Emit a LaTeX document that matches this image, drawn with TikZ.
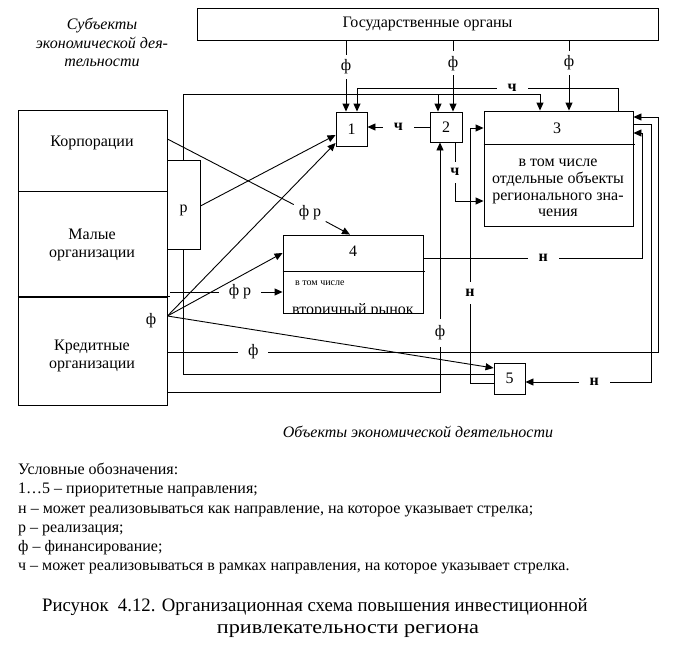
\documentclass[tikz,border=0pt]{standalone}
\usepackage{fontspec}
\setmainfont{Liberation Serif}
\usetikzlibrary{arrows.meta,calc}
\begin{document}
\begin{tikzpicture}[x=1pt,y=-1pt,
  every node/.style={font=\fontsize{16}{18}\selectfont},
  box/.style={draw, line width=0.9pt, inner sep=0pt, rectangle},
  conn/.style={line width=0.9pt},
  arr/.style={conn, -{Triangle[length=8pt,width=7pt]}},
  hlab/.style={fill=white, inner xsep=11pt, inner ysep=0.5pt},
  vlab/.style={fill=white, inner xsep=1pt, inner ysep=7pt},
  bold/.style={font=\fontsize{16}{18}\selectfont\bfseries},
  txt/.style={inner sep=0pt, align=center},
  legend/.style={anchor=base west, inner sep=0pt, font=\fontsize{16}{18}\selectfont},
  capt/.style={anchor=base, inner sep=0pt, font=\fontsize{19}{22}\selectfont}
]
\useasboundingbox (0,0) rectangle (675,656);

% boxes
\node[box, minimum width=461pt, minimum height=32pt] (gov) at (427.5,24) {Государственные органы};
\node[box, minimum width=149pt, minimum height=81pt] (corp) at (92.5,150.5) {};
\node[box, minimum width=149pt, minimum height=106pt] (small) at (92.5,244) {};
\node[box, minimum width=149pt, minimum height=108pt] (credit) at (92.5,351) {};
\node[box, fill=white, minimum width=33pt, minimum height=89pt] (rbox) at (183.5,204.5) {};
\node[box, minimum width=31pt, minimum height=34pt] (b1) at (351.5,129) {1};
\node[box, minimum width=32pt, minimum height=30pt] (b2) at (446,127) {2};
\node[box, minimum width=149pt, minimum height=115pt] (b3) at (558.5,168.5) {};
\node[box, minimum width=140pt, minimum height=78pt] (b4) at (353,274) {};
\node[box, minimum width=31pt, minimum height=31pt] (b5) at (509.5,378.5) {5};

% texts in boxes
\node[txt] (tcorp) at (92,143) {Корпорации};
\node[txt] (tsmall) at (92,245) {Малые\\организации};
\node[txt] (tcredit) at (92,355.5) {Кредитные\\организации};
\node[txt] (tr) at (183.5,210) {р};
\node[txt] (t3) at (557,128) {3};
\node[txt, font=\fontsize{16}{16.7}\selectfont] (t3b) at (558,188) {в том числе\\отдельные объекты\\регионального зна-\\чения};
\node[txt] (t4) at (353,251) {4};
\node[anchor=west, inner sep=0pt, font=\fontsize{10}{12}\selectfont] (t4a) at (295,283) {в том числе};
\begin{scope}
  \clip (b4.south west) rectangle (b4.east |- 0,272);
  \node[anchor=base, inner sep=0pt] (t4b) at (353,314.5) {вторичный рынок};
\end{scope}

% dividers
\draw[conn] (credit.north west) -- ([xshift=3pt]credit.north east);
\draw[conn] (b3.west |- 0,144) -- ([xshift=2pt]b3.east |- 0,144);
\draw[conn] (b4.west |- 0,271) -- ([xshift=2pt]b4.east |- 0,271);

% headings
\node[txt, font=\fontsize{16}{18.5}\selectfont\itshape] (subj) at (102,42.5) {Субъекты\\экономической дея-\\тельности};
\node[txt, font=\fontsize{16}{18}\selectfont\itshape] (objs) at (418,432) {Объекты экономической деятельности};

% from government bodies
\draw[arr] (gov.south -| 346,0) -- node[vlab, inner ysep=5pt, pos=0.37]{ф} (b1.north -| 346,0);
\draw[arr] (gov.south -| 453,0) -- node[vlab, inner ysep=5pt, pos=0.32]{ф} (b2.north -| 453,0);
\draw[arr] (gov.south -| 569,0) -- node[vlab, inner ysep=5pt, pos=0.32]{ф} (b3.north -| 569,0);

% ч connectors
\draw[arr] (b3.north -| 618,0) -- (618,88) -- node[hlab, bold, pos=0.406]{ч} (357,88) -- (b1.north -| 357,0);
\draw[arr] (b2.west) -- node[hlab, bold]{ч} (b2.west -| b1.east);
\draw[arr] (b2.south -| 455,0) -- node[vlab, bold, pos=0.51]{ч} (455,201) -- (b3.west |- 0,201);

% р box connectors
\draw[arr] (rbox.north) -- (183.5,94) -- (540,94) -- (b3.north -| 540,0);
\draw[arr] (438,94) -- (b2.north -| 438,0);
\draw[conn] (rbox.south) -- (183.5,374) -- (b5.west |- 0,374);
\draw[arr] (rbox.east |- 0,206) -- (b1.west |- 0,135);

% н connectors
\draw[arr] (b5.west |- 0,383) -- (470,383) -- node[vlab, bold, pos=0.353]{н} (470,128) -- (b3.west |- 0,128);
\draw[arr] (b4.east |- 0,258) -- node[hlab, bold, pos=0.548]{н} (642,258) -- (642,133) -- (b3.east |- 0,133);
\draw[arr] (b3.east |- 0,124) -- (651,124) -- (651,382) -- node[hlab, bold, pos=0.452]{н} (b5.east |- 0,382);

% ф connectors from credit organisations
\draw[arr] (credit.east |- 0,392) -- (440,392) -- node[vlab, pos=0.236]{ф} (b2.south -| 440,0);
\draw[arr] (credit.east |- 0,352) -- node[hlab, inner xsep=10pt, pos=0.175]{ф} (658,352) -- (658,117) -- (b3.east |- 0,117);

% ф р connectors
\node[inner xsep=9pt, inner ysep=1pt] (fr1) at (310,213) {ф р};
\draw[conn] (corp.east |- 0,139) -- (fr1);
\draw[arr] (fr1) -- (b4.north -| 350,0);
\node[inner xsep=10pt, inner ysep=1pt] (fr2) at (240,292) {ф р};
\draw[conn] ([xshift=3pt]small.east |- 0,292) -- (fr2);
\draw[arr] (fr2) -- (b4.west |- 0,292);

% fan from credit organisations
\coordinate (F) at (credit.east |- 0,316);
\node[txt] (fF) at (151,321) {ф};
\draw[arr] (F) -- (b1.west |- 0,143);
\draw[arr] (F) -- (b4.west |- 0,253);
\draw[arr] (F) -- (b5.west |- 0,368);

% legend
\node[legend] (l1) at (18,474) {Условные обозначения:};
\node[legend] (l2) at (18,493) {1…5 – приоритетные направления;};
\node[legend] (l3) at (18,513) {н – может реализовываться как направление, на которое указывает стрелка;};
\node[legend] (l4) at (18,532) {р – реализация;};
\node[legend] (l5) at (18,551) {ф – финансирование;};
\node[legend] (l6) at (18,570) {ч – может реализовываться в рамках направления, на которое указывает стрелка.};

% caption
\node[capt] (c1) at (315,611) {\scalebox{0.987}[1]{Рисунок\ \ 4.12. Организационная схема повышения инвестиционной}};
\node[capt] (c2) at (348,633) {\scalebox{1.17}[1]{привлекательности региона}};
\end{tikzpicture}
\end{document}
